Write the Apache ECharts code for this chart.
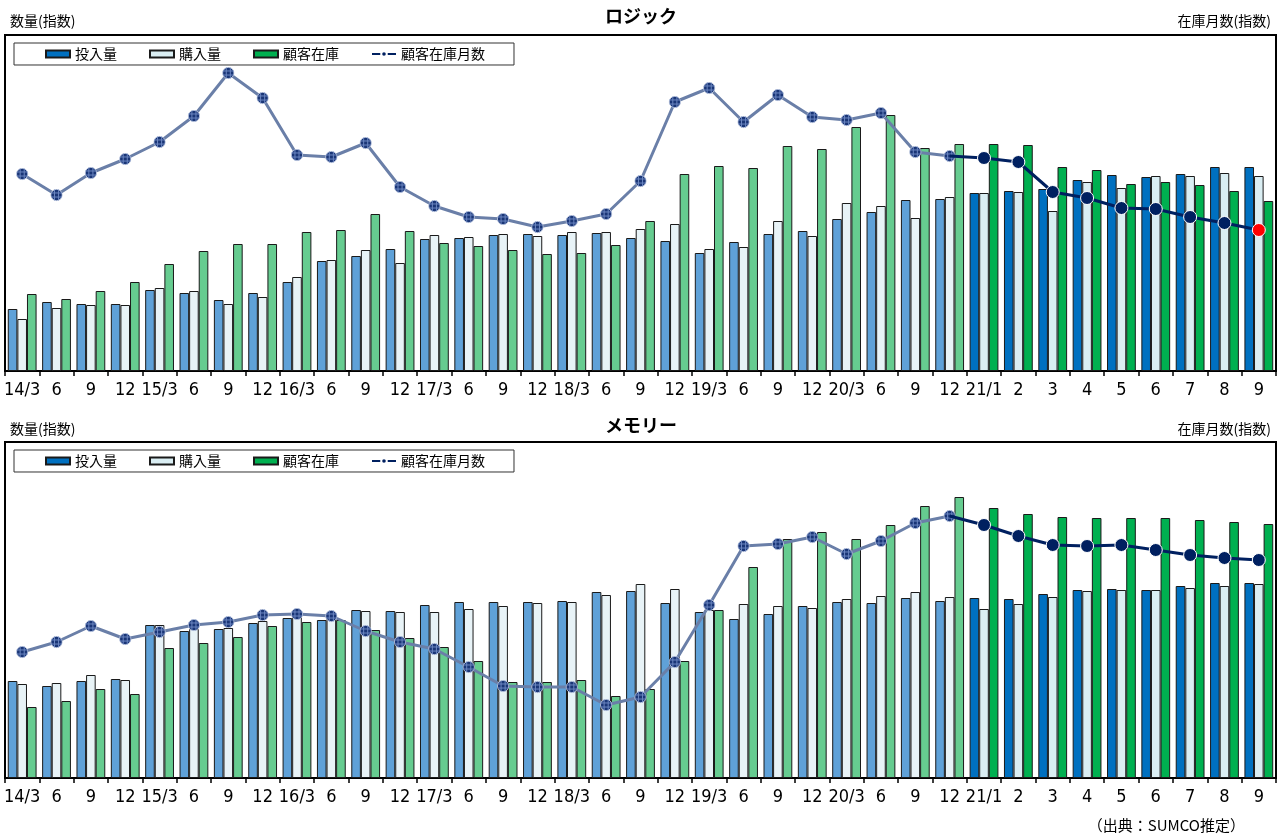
<!DOCTYPE html>
<html>
<head>
<meta charset="utf-8">
<title>ロジック / メモリー</title>
<script src="https://cdn.jsdelivr.net/npm/echarts@6/dist/echarts.min.js"></script>
<style>
  html, body { margin: 0; padding: 0; background: #fff; }
  #chart { width: 1282px; height: 838px; }
</style>
</head>
<body>
<div id="chart"></div>
<script>
// 横軸（14/3〜20/12は四半期、21/1以降は月次）
var categories = ['14/3','6','9','12','15/3','6','9','12','16/3','6','9','12',
  '17/3','6','9','12','18/3','6','9','12','19/3','6','9','12','20/3','6','9','12',
  '21/1','2','3','4','5','6','7','8','9'];

// ロジック（指数・目盛なしのため相対値）
var logicInput    = [62,69,67,67,81,78,71,78,89,110,115,122,132,133,136,137,136,138,133,130,118,129,137,140,152,159,171,172,178,180,182,191,196,194,197,204,204];
var logicPurchase = [52,63,66,66,83,80,67,74,94,111,121,108,136,134,137,135,139,139,142,147,122,124,150,135,168,165,153,174,178,179,160,189,183,195,195,198,195];
var logicStock    = [77,72,80,89,107,120,127,127,139,141,157,140,128,125,121,117,118,126,150,197,205,203,225,222,244,256,223,227,227,226,204,201,187,189,186,180,170];
var logicMonths   = [197,176,198,212,229,255,298,273,216,214,228,184,165,154,152,144,150,157,190,269,283,249,276,254,251,258,219,215,213,209,179,173,163,162,154,148,141];

// メモリー
var memInput    = [97,92,97,99,153,147,149,155,160,158,168,167,173,176,176,176,177,186,187,175,166,159,164,172,176,175,180,177,180,179,184,188,189,188,192,195,195];
var memPurchase = [94,95,103,98,153,149,150,157,162,160,167,166,166,169,172,175,176,183,194,189,168,174,172,170,179,182,186,181,169,174,181,187,188,188,190,192,194];
var memStock    = [71,77,89,84,130,135,141,152,156,158,148,140,131,117,96,96,98,82,89,117,168,211,239,246,239,253,272,281,270,264,261,260,260,260,258,256,254];
var memMonths   = [126,136,152,139,146,153,156,163,164,162,147,136,129,111,92,91,91,73,81,116,173,232,234,241,224,237,255,262,253,242,233,232,233,228,223,220,218];

var MONTHLY_START = 28;   // 21/1 から月次
var AXIS_MAX = 336;

var FONT = "'Noto Sans CJK JP', sans-serif";
var NUM_FONT = "'Liberation Sans Narrow', 'DejaVu Sans Condensed', 'Liberation Sans', Arial, sans-serif";

// 実績期間のマーカー（格子模様の丸）
var hatchSvg = "<svg xmlns='http://www.w3.org/2000/svg' width='16' height='16'>" +
  "<defs><clipPath id='c'><circle cx='8' cy='8' r='7'/></clipPath></defs>" +
  "<circle cx='8' cy='8' r='7' fill='#1a3677' stroke='#c8d2e6' stroke-width='1'/>" +
  "<g clip-path='url(#c)' stroke='#6d88c2' stroke-width='1.2'>" +
  "<path d='M0 5.5H16M0 10.5H16M5.5 0V16M10.5 0V16'/></g></svg>";
var HATCH_SYMBOL = 'image://data:image/svg+xml;charset=utf-8,' + encodeURIComponent(hatchSvg);

var COLORS = {
  input:    ['#5fa1d8', '#0070c0'],
  purchase: ['#e8f3f7', '#daeef3'],
  stock:    ['#66cc90', '#00b050']
};

function barData(values, colors){
  return values.map(function(v, i){
    return { value: v, itemStyle: { color: i < MONTHLY_START ? colors[0] : colors[1] } };
  });
}

function barSeries(name, values, colors, idx){
  return {
    name: name,
    type: 'bar',
    xAxisIndex: idx,
    yAxisIndex: idx * 2,
    barWidth: 9.6,
    barGap: '0%',
    itemStyle: { color: colors[1], borderColor: '#1a1a1a', borderWidth: 1 },
    data: barData(values, colors),
    z: 2
  };
}

function lineSeries(values, idx, lastRed){
  var hist = values.map(function(v, i){ return i < MONTHLY_START ? v : '-'; });
  var recent = values.map(function(v, i){
    if (i < MONTHLY_START - 1) return '-';
    if (i === MONTHLY_START - 1) return { value: v, symbol: 'none' };
    if (lastRed && i === values.length - 1) return { value: v, itemStyle: { color: '#ff0000' } };
    return v;
  });
  return [
    {
      name: '顧客在庫月数(四半期)',
      type: 'line',
      xAxisIndex: idx,
      yAxisIndex: idx * 2 + 1,
      data: hist,
      symbol: HATCH_SYMBOL,
      symbolSize: 13,
      lineStyle: { color: '#6a7fa8', width: 3 },
      itemStyle: { color: '#1a3677' },
      z: 4
    },
    {
      name: '顧客在庫月数',
      type: 'line',
      xAxisIndex: idx,
      yAxisIndex: idx * 2 + 1,
      data: recent,
      symbol: 'circle',
      symbolSize: 13,
      lineStyle: { color: '#002060', width: 3 },
      itemStyle: { color: '#002060', borderColor: '#fff', borderWidth: 1 },
      z: 5
    }
  ];
}

function xAxis(idx){
  return {
    type: 'category',
    gridIndex: idx,
    data: categories,
    boundaryGap: true,
    axisLine: { lineStyle: { color: '#000', width: 2 } },
    axisTick: { show: true, interval: 0, length: 5, lineStyle: { color: '#000', width: 1.5 } },
    axisLabel: { interval: 0, color: '#000', fontSize: 18, fontFamily: NUM_FONT, margin: 10 },
    splitLine: { show: false }
  };
}

function yAxis(idx, pos){
  return { type: 'value', gridIndex: idx, position: pos, min: 0, max: AXIS_MAX, show: false, splitLine: { show: false } };
}

function legend(top){
  return {
    left: 14,
    top: top,
    padding: [4, 29, 4, 31],
    itemGap: 32,
    itemWidth: 24,
    itemHeight: 7,
    borderColor: '#333',
    borderWidth: 1,
    backgroundColor: '#fff',
    selectedMode: false,
    textStyle: { fontSize: 14, color: '#000', fontFamily: FONT },
    data: [
      { name: '投入量', icon: 'rect' },
      { name: '購入量', icon: 'rect' },
      { name: '顧客在庫', icon: 'rect' },
      { name: '顧客在庫月数' }
    ]
  };
}

function label(text, pos, size){
  var t = { text: text, padding: 0, textStyle: { fontSize: size || 14, fontWeight: 'normal', color: '#000', fontFamily: FONT } };
  for (var k in pos) t[k] = pos[k];
  return t;
}

function headline(text, top){
  return { text: text, left: 'center', top: top, padding: 0,
    textStyle: { fontSize: 18, fontWeight: 'bold', color: '#000', fontFamily: FONT } };
}

var series = [
  barSeries('投入量', logicInput, COLORS.input, 0),
  barSeries('購入量', logicPurchase, COLORS.purchase, 0),
  barSeries('顧客在庫', logicStock, COLORS.stock, 0)
].concat(lineSeries(logicMonths, 0, true)).concat([
  barSeries('投入量', memInput, COLORS.input, 1),
  barSeries('購入量', memPurchase, COLORS.purchase, 1),
  barSeries('顧客在庫', memStock, COLORS.stock, 1)
]).concat(lineSeries(memMonths, 1, false));

var myChart = echarts.init(document.getElementById('chart'));
var option = {
  animation: false,
  backgroundColor: '#fff',
  textStyle: { fontFamily: FONT },
  title: [
    headline('ロジック', 7),
    label('数量(指数)', { left: 10, top: 14 }),
    label('在庫月数(指数)', { right: 11, top: 14 }),
    headline('メモリー', 416),
    label('数量(指数)', { left: 10, top: 422 }),
    label('在庫月数(指数)', { right: 11, top: 422 }),
    label('（出典：SUMCO推定）', { right: 37, top: 818 }, 15)
  ],
  legend: [legend(43), legend(450)],
  grid: [
    { left: 5, right: 6, top: 35, height: 336, show: true, borderColor: '#000', borderWidth: 2 },
    { left: 5, right: 6, top: 442, height: 336, show: true, borderColor: '#000', borderWidth: 2 }
  ],
  xAxis: [xAxis(0), xAxis(1)],
  yAxis: [yAxis(0, 'left'), yAxis(0, 'right'), yAxis(1, 'left'), yAxis(1, 'right')],
  series: series
};
myChart.setOption(option);
</script>
</body>
</html>
